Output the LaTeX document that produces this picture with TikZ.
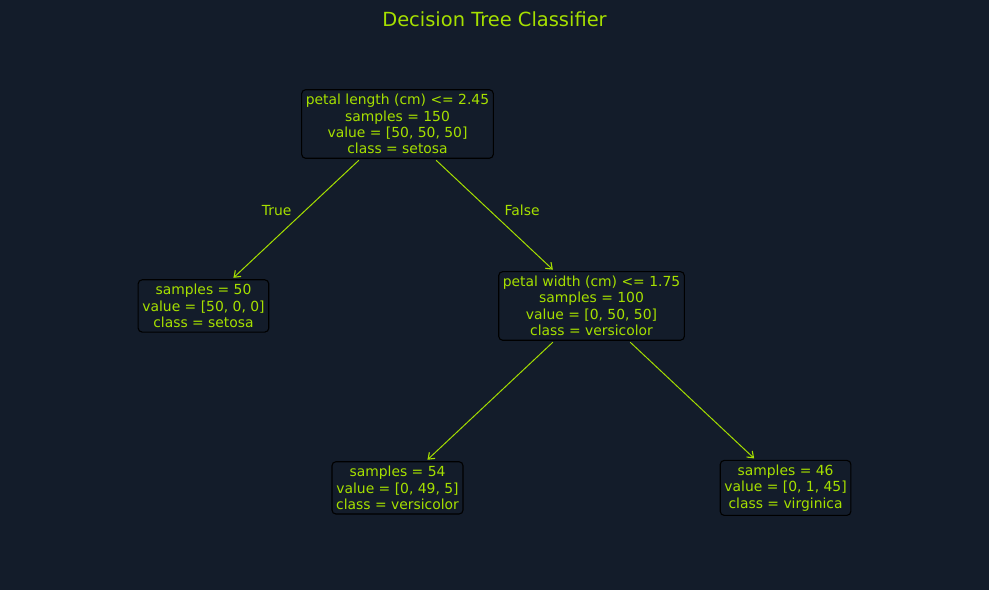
\documentclass[tikz,border=0pt]{standalone}
\usepackage{fontspec}
\setmainfont{DejaVu Sans}
\usetikzlibrary{arrows.meta, positioning}
\definecolor{bgnavy}{HTML}{131C2A}
\definecolor{lime}{HTML}{A6E000}

\begin{document}
\begin{tikzpicture}[x=0.72pt, y=-0.72pt]
\tikzset{block/.style={rectangle, align=center, font=\fontsize{10}{11.75}\selectfont, text=lime, fill=bgnavy, draw=black, line width=0.8pt, rounded corners=1mm, inner xsep=3pt, inner ysep=3.2pt},
		branch/.style={font=\fontsize{10}{12}\selectfont, text=lime, inner sep=3pt},
		edge/.style={-{Straight Barb[length=4pt, width=6pt, line width=0.8pt]}, draw=lime, line width=0.7pt, shorten <=1.5pt, shorten >=1.5pt}}
\fill[bgnavy] (0,0) rectangle (989,590);
\useasboundingbox (0,0) rectangle (989,590);
\node[text=lime, font=\fontsize{14}{16}\selectfont] (title) at (494.5,19) {Decision Tree Classifier};
\node[block] (root) at (397.5,124) {petal length (cm) <= 2.45\\samples = 150\\value = [50, 50, 50]\\class = setosa};
\node[block, on grid, below left=131pt and 139.7pt of root] (setosa) {samples = 50\\value = [50, 0, 0]\\class = setosa};
\node[block, on grid, below right=131pt and 139.7pt of root] (width) {petal width (cm) <= 1.75\\samples = 100\\value = [0, 50, 50]\\class = versicolor};
\draw[edge] (root) -- node[branch, above left, yshift=-1pt] (truelbl) {True} (setosa);
\draw[edge] (root) -- node[branch, right=4pt, yshift=3pt] (falselbl) {False} (width);
\node[block, on grid, below left=131pt and 139.7pt of width] (versi) {samples = 54\\value = [0, 49, 5]\\class = versicolor};
\node[block, on grid, below right=131pt and 139.7pt of width] (virgi) {samples = 46\\value = [0, 1, 45]\\class = virginica};
\draw[edge] (width) -- (versi);
\draw[edge] (width) -- (virgi);
\end{tikzpicture}
\end{document}
